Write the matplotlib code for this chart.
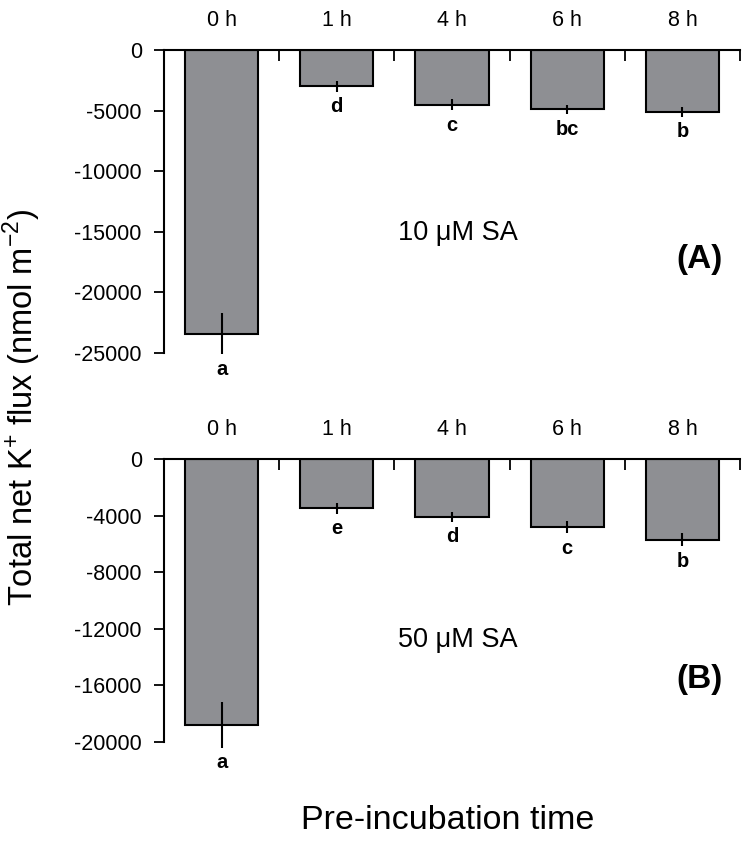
import numpy as np
import matplotlib
matplotlib.use("Agg")
import matplotlib.pyplot as plt

plt.rcParams['font.family'] = ['Liberation Sans', 'DejaVu Sans']
plt.rcParams['axes.unicode_minus'] = False
plt.rcParams['mathtext.fontset'] = 'custom'
plt.rcParams['mathtext.rm'] = 'Liberation Sans'

# data
times = ['0 h', '1 h', '4 h', '6 h', '8 h']

flux_10 = [-23400, -3000, -4500, -4900, -5100]
err_10 = [1700, 450, 450, 400, 400]
letters_10 = ['a', 'd', 'c', 'bc', 'b']

flux_50 = [-18800, -3500, -4100, -4800, -5700]
err_50 = [1600, 380, 350, 430, 480]
letters_50 = ['a', 'e', 'd', 'c', 'b']

bar_color = '#8e8f93'

fig = plt.figure(figsize=(7.43, 8.44), dpi=100)
ax1 = fig.add_axes([0.2207, 0.5818, 0.7753, 0.3590])
ax2 = fig.add_axes([0.2207, 0.1209, 0.7753, 0.3353])


def draw_panel(ax, vals, errs, letters, ymin, ystep, conc, conc_y, tag, tag_y):
    x = np.arange(len(times))
    ax.bar(x, vals, width=0.635, color=bar_color, edgecolor='black', linewidth=1.5, zorder=2)
    # error bars: plain vertical line, no caps
    ax.errorbar(x, vals, yerr=errs, fmt='none', ecolor='black', elinewidth=1.5,
                capsize=0, zorder=3, clip_on=False)
    for xi, v, e, lab in zip(x, vals, errs, letters):
        ax.annotate(lab, (xi, v - e), xytext=(0, -4), textcoords='offset points',
                    ha='center', va='top', fontsize=14.5, fontweight='bold',
                    annotation_clip=False)

    ax.set_xlim(-0.5, len(times) - 0.5)
    ax.set_ylim(ymin, 0)
    ax.set_yticks(np.arange(0, ymin - 1, -ystep))
    ax.tick_params(axis='y', direction='out', length=7, width=1.3, labelsize=15.5, pad=9)

    # category labels on top, boundary ticks pointing down
    ax.xaxis.tick_top()
    ax.set_xticks(x)
    ax.set_xticklabels(times)
    ax.tick_params(axis='x', which='major', length=0, labelsize=15.5, pad=14)
    ax.set_xticks(np.arange(0.5, len(times)), minor=True)
    ax.tick_params(axis='x', which='minor', direction='in', length=8, width=1.3, top=True)

    for side in ['bottom', 'right']:
        ax.spines[side].set_visible(False)
    ax.spines['left'].set_linewidth(1.5)
    ax.spines['top'].set_linewidth(1.5)

    ax.text(0.406, conc_y, conc, transform=ax.transAxes,
            fontsize=19.5, ha='left', va='center')
    ax.text(0.969, tag_y, tag, transform=ax.transAxes,
            fontsize=24, fontweight='bold', ha='right', va='center')


draw_panel(ax1, flux_10, err_10, letters_10, -25000, 5000, '10 \u03bcM SA', 0.396, '(A)', 0.307)
draw_panel(ax2, flux_50, err_50, letters_50, -20000, 4000, '50 \u03bcM SA', 0.36, '(B)', 0.219)

fig.text(0.029, 0.517, 'Total net K$^{+}$ flux (nmol m$^{-2}$)', rotation=90,
         fontsize=23.5, ha='center', va='center')
fig.text(0.603, 0.028, 'Pre-incubation time', fontsize=24.5, ha='center', va='center')

fig.savefig('out.png', dpi=100)
